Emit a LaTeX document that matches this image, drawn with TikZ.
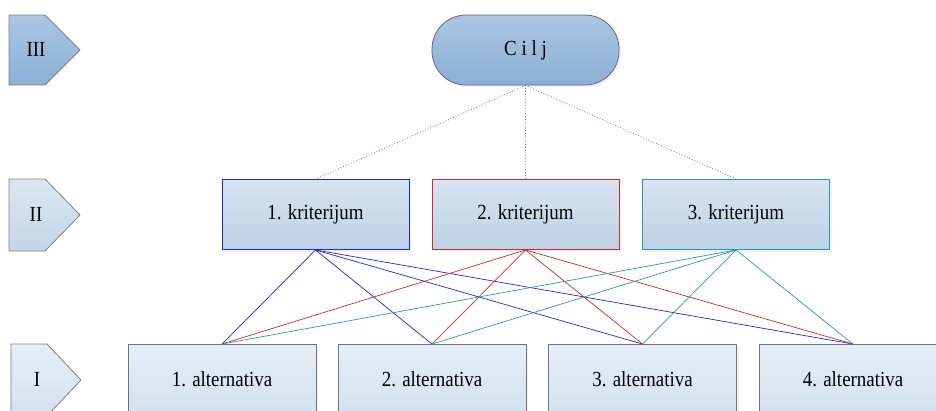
\documentclass[tikz,border=0pt]{standalone}
\usepackage{fontspec}
\setmainfont{Liberation Serif}
\newfontfamily\uski[FakeStretch=0.88]{Liberation Serif}
\usetikzlibrary{shadows}

\definecolor{ciljTop}{HTML}{AAC6E3}
\definecolor{ciljBot}{HTML}{8DAFD5}
\definecolor{ciljRub}{HTML}{6A5F9E}
\definecolor{kritTop}{HTML}{D7E4F1}
\definecolor{kritBot}{HTML}{BDD1E6}
\definecolor{altTop}{HTML}{E6EEF7}
\definecolor{altBot}{HTML}{D3E1EF}
\definecolor{plava}{HTML}{2424E0}
\definecolor{crvena}{HTML}{D42A2A}
\definecolor{tirkiz}{HTML}{2A9D9D}
\definecolor{tackasta}{HTML}{6E6EA6}

\tikzset{
  tekst/.style={font=\uski\fontsize{21.5}{24}\selectfont},
  nivo/.style={draw=gray, line width=0.8pt},
  senka/.style={drop shadow={shadow xshift=2pt, shadow yshift=-2pt, opacity=0.15, fill=gray!70}},
  cilj/.style={rectangle, rounded corners=34pt, minimum width=187pt, minimum height=70pt,
    draw=ciljRub, line width=0.8pt, top color=ciljTop, bottom color=ciljBot, senka, tekst},
  krit/.style={rectangle, minimum width=187pt, minimum height=70pt, line width=0.9pt,
    top color=kritTop, bottom color=kritBot, senka, tekst},
  alt/.style={rectangle, draw=gray!90!black, minimum width=188pt, minimum height=70pt, line width=0.9pt,
    top color=altTop, bottom color=altBot, senka, tekst},
  veza/.style={line width=0.7pt},
  tacke/.style={draw=tackasta, line width=0.8pt, dotted}
}

\begin{document}
\begin{tikzpicture}[x=1pt, y=-1pt, line join=round]
  \useasboundingbox (0,0) rectangle (936,410);

  % nivoi
  \shade[nivo, top color=ciljTop, bottom color=ciljBot] (9,15) -- (45,15) -- (80,50) -- (45,85) -- (9,85) -- cycle;
  \shade[nivo, top color=kritTop!90, bottom color=kritBot!90] (9,179) -- (45,179) -- (80,215) -- (45,251) -- (9,251) -- cycle;
  \shade[nivo, top color=altTop, bottom color=altBot] (11,344) -- (47,344) -- (81,380) -- (47,416) -- (11,416) -- cycle;
  \node[tekst] (n3) at (36,49) {III};
  \node[tekst] (n2) at (36,214) {II};
  \node[tekst] (n1) at (37,379) {I};

  % cilj i kriterijumi
  \node[cilj] (C) at (525.5,50) {C i l j};
  \node[krit, draw=plava] (K1) at (315.5,214.5) {1. kriterijum};
  \node[krit, draw=crvena] (K2) at (525.5,214.5) {2. kriterijum};
  \node[krit, draw=tirkiz] (K3) at (736,214.5) {3. kriterijum};

  % alternative
  \node[alt] (A1) at (222,379.5) {1. alternativa};
  \node[alt] (A2) at (432,379.5) {2. alternativa};
  \node[alt] (A3) at (642.5,379.5) {3. alternativa};
  \node[alt] (A4) at (853,379.5) {4. alternativa};

  \draw[tacke] (C.south) -- (K1.north) (C.south) -- (K2.north) (C.south) -- (K3.north);

  \foreach \k/\boja in {K1/plava, K2/crvena, K3/tirkiz}
    \foreach \a in {A1,A2,A3,A4}
      \draw[veza, \boja] (\k.south) -- (\a.north);
\end{tikzpicture}
\end{document}
